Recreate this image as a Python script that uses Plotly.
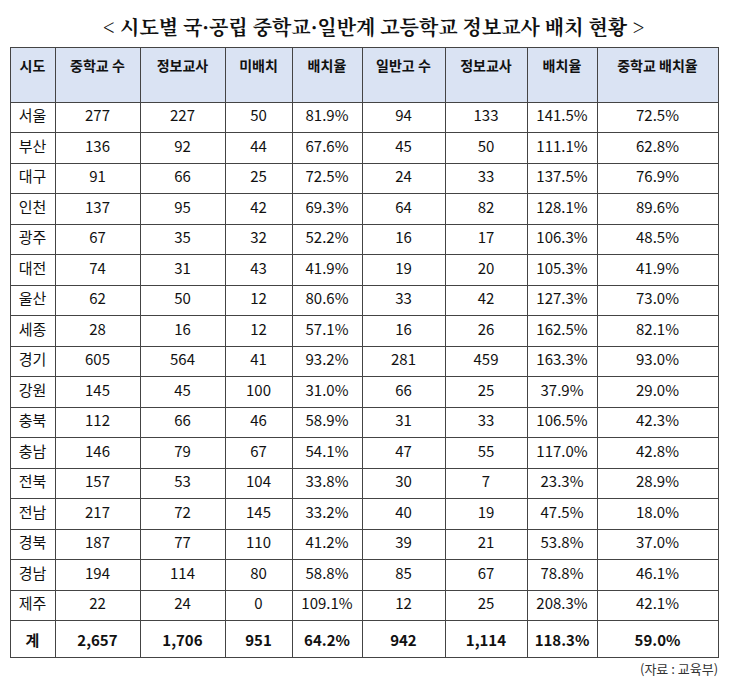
import plotly.graph_objects as go

regions = ["서울", "부산", "대구", "인천", "광주", "대전", "울산", "세종", "경기", "강원",
           "충북", "충남", "전북", "전남", "경북", "경남", "제주", "계"]
mid_schools = ["277", "136", "91", "137", "67", "74", "62", "28", "605", "145",
               "112", "146", "157", "217", "187", "194", "22", "2,657"]
mid_teachers = ["227", "92", "66", "95", "35", "31", "50", "16", "564", "45",
                "66", "79", "53", "72", "77", "114", "24", "1,706"]
mid_unassigned = ["50", "44", "25", "42", "32", "43", "12", "12", "41", "100",
                  "46", "67", "104", "145", "110", "80", "0", "951"]
mid_rate = ["81.9%", "67.6%", "72.5%", "69.3%", "52.2%", "41.9%", "80.6%", "57.1%", "93.2%", "31.0%",
            "58.9%", "54.1%", "33.8%", "33.2%", "41.2%", "58.8%", "109.1%", "64.2%"]
high_schools = ["94", "45", "24", "64", "16", "19", "33", "16", "281", "66",
                "31", "47", "30", "40", "39", "85", "12", "942"]
high_teachers = ["133", "50", "33", "82", "17", "20", "42", "26", "459", "25",
                 "33", "55", "7", "19", "21", "67", "25", "1,114"]
high_rate = ["141.5%", "111.1%", "137.5%", "128.1%", "106.3%", "105.3%", "127.3%", "162.5%", "163.3%", "37.9%",
             "106.5%", "117.0%", "23.3%", "47.5%", "53.8%", "78.8%", "208.3%", "118.3%"]
mid_rate2 = ["72.5%", "62.8%", "76.9%", "89.6%", "48.5%", "41.9%", "73.0%", "82.1%", "93.0%", "29.0%",
             "42.3%", "42.8%", "28.9%", "18.0%", "37.0%", "46.1%", "42.1%", "59.0%"]
headers = ["시도", "중학교 수", "정보교사", "미배치", "배치율", "일반고 수", "정보교사", "배치율", "중학교 배치율"]
col_widths = [45, 85, 85, 67, 70, 83, 82, 70, 121]

columns = [regions, mid_schools, mid_teachers, mid_unassigned, mid_rate,
           high_schools, high_teachers, high_rate, mid_rate2]
# bold the total row
columns = [col[:-1] + ["<b>" + col[-1] + "</b>"] for col in columns]

W, H = 730, 695
fig = go.Figure(go.Table(
    columnwidth=col_widths,
    domain=dict(x=[2 / W, 710 / W], y=[0, 1 - 39 / H]),
    header=dict(
        values=["<b>" + h + "</b>" for h in headers],
        fill_color="#dae3f3",
        line_color="#444444",
        align="center",
        height=55,
        font=dict(family="Noto Sans CJK KR", size=14, color="#111111"),
    ),
    cells=dict(
        values=columns,
        fill_color="white",
        line_color="#444444",
        align="center",
        height=30.5,
        font=dict(family="Malgun Gothic, Noto Sans CJK KR", size=15, color="#111111"),
    ),
))

fig.update_layout(
    width=W, height=H,
    margin=dict(l=0, r=0, t=0, b=0),
    paper_bgcolor="white",
    annotations=[
        dict(text="<b>&lt; 시도별 국·공립 중학교·일반계 고등학교 정보교사 배치 현황 &gt;</b>",
             x=0.5, y=1 - 2 / H, yanchor="top", xref="paper", yref="paper", showarrow=False,
             font=dict(family="Noto Serif CJK KR, Noto Sans CJK KR", size=20, color="#111111")),
        dict(text="(자료 : 교육부)", x=712 / W, y=1 - 672 / H, xref="paper", yref="paper",
             xanchor="right", showarrow=False,
             font=dict(family="Noto Sans CJK KR", size=13, color="#333333")),
    ],
)

fig.write_html("out.html")
